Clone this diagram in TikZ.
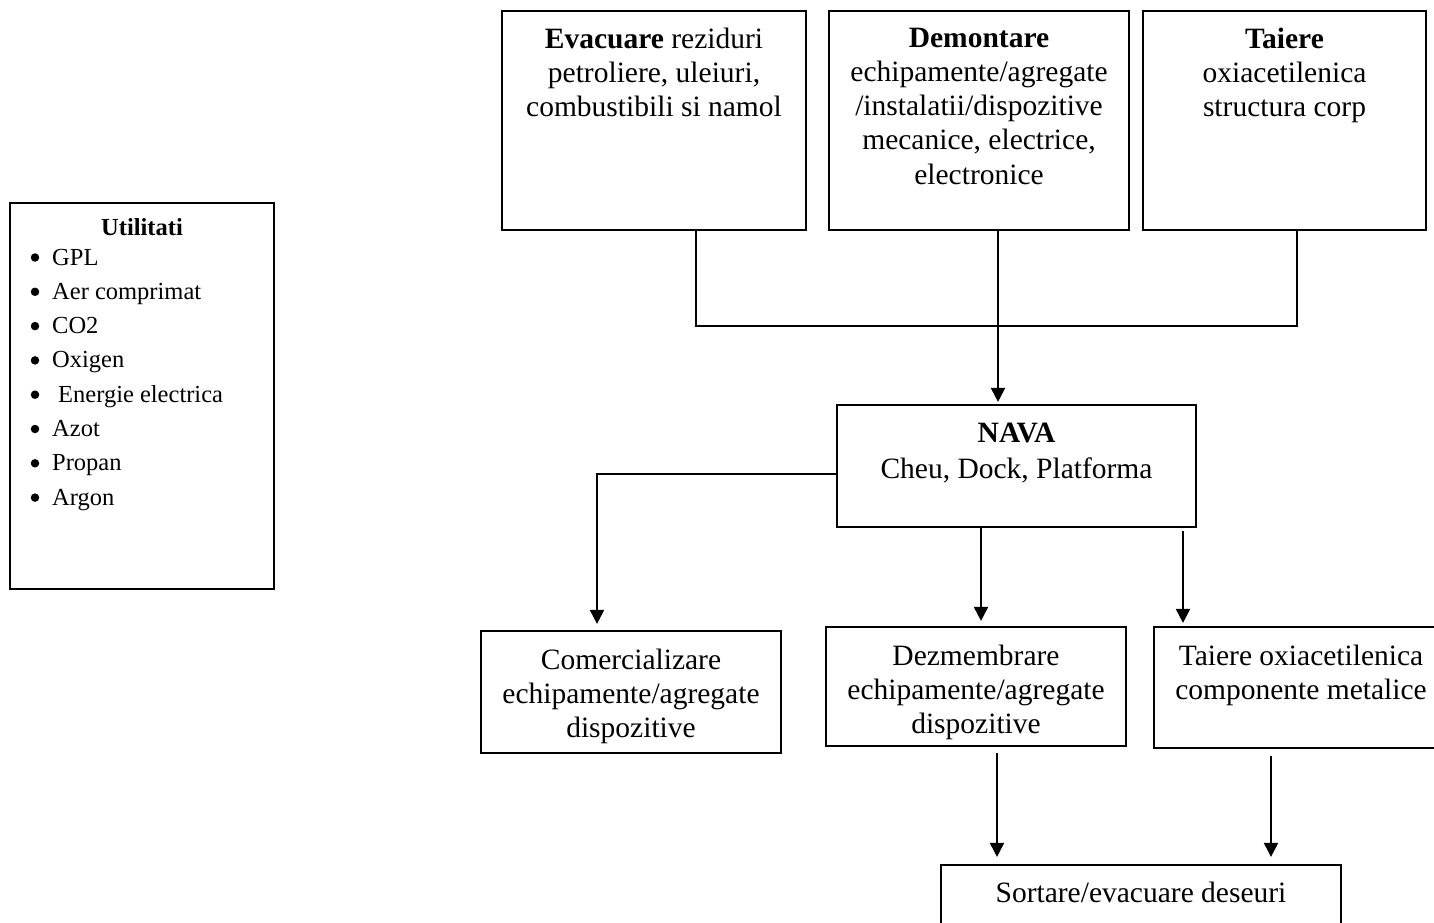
\documentclass[tikz,border=0pt]{standalone}
\usepackage{fontspec}
\setmainfont{Liberation Serif}
\usetikzlibrary{arrows.meta,calc}
\begin{document}
\begin{tikzpicture}[x=1pt,y=-1pt,
  box/.style={draw,line width=2.2pt,inner sep=0pt,fill=none},
  txt/.style={inner sep=0pt,align=center,anchor=north,
    font=\fontsize{29.5}{34.25}\selectfont},
  ltxt/.style={inner sep=0pt,anchor=base west,font=\fontsize{24.5}{34.3}\selectfont},
  bul/.style={circle,fill,inner sep=0pt,minimum size=8.5pt},
  link/.style={line width=2pt},
  arr/.style={line width=2pt,-{Triangle[width=14pt,length=14pt]},shorten >=4pt}]
\clip (0,0) rectangle (1434,923);
\fill[white] (0,0) rectangle (1434,923);

% top row of operations
\node[box,minimum width=304pt,minimum height=219pt] (evac) at (654,120.5) {};
\node[txt] (evact) at (654,27.5) {\textbf{Evacuare} reziduri\\petroliere, uleiuri,\\combustibili si namol};
\node[box,minimum width=300pt,minimum height=219pt] (demo) at (979,120.5) {};
\node[txt] (demot) at (979,27.5) {\textbf{Demontare}\\echipamente/agregate\\/instalatii/dispozitive\\mecanice, electrice,\\electronice};
\node[box,minimum width=283pt,minimum height=219pt] (taie) at (1284.5,120.5) {};
\node[txt] (taiet) at (1284.5,27.5) {\textbf{Taiere}\\oxiacetilenica\\structura corp};

% utilities
\node[box,minimum width=264pt,minimum height=386pt] (util) at (142,396) {};
\node[inner sep=0pt,anchor=base,font=\bfseries\fontsize{24.5}{34.3}\selectfont] (utilt) at (142,235) {Utilitati};
\foreach \i/\t/\dx in {1/GPL/0,2/Aer comprimat/0,3/CO2/0,4/Oxigen/0,5/Energie electrica/6,6/Azot/0,7/Propan/0,8/Argon/0}{
  \node[bul] (b\i) at (35,{257.5+(\i-1)*34.3}) {};
  \node[ltxt] (u\i) at ({52+\dx},{265+(\i-1)*34.3}) {\t};
}

% ship
\node[box,minimum width=359pt,minimum height=122pt] (nava) at (1016.5,466) {};
\node[txt,font=\fontsize{29.5}{36}\selectfont] (navat) at (1016.5,422.5) {\textbf{NAVA}\\Cheu, Dock, Platforma};

% second row
\node[box,minimum width=300pt,minimum height=122pt] (comerc) at (631,692) {};
\node[txt] (comerct) at (631,648.5) {Comercializare\\echipamente/agregate\\dispozitive};
\node[box,minimum width=300pt,minimum height=119pt] (dezm) at (976,686.5) {};
\node[txt] (dezmt) at (976,644.5) {Dezmembrare\\echipamente/agregate\\dispozitive};
\node[box,minimum width=294pt,minimum height=121pt] (tcomp) at (1301,687.5) {};
\node[txt] (tcompt) at (1301,644.5) {Taiere oxiacetilenica\\componente metalice};

% waste sorting
\node[box,minimum width=400pt,minimum height=90pt] (sort) at (1141,910) {};
\node[txt] (sortt) at (1141,881.5) {Sortare/evacuare deseuri};

% connectors
\coordinate (j1) at (696,326);
\coordinate (j2) at (998,326);
\coordinate (j3) at (1297,326);
\draw[link] (evac.south -| j1) -- (j1) -- (j3) -- (taie.south -| j3);
\draw[arr,shorten >=2pt] (demo.south -| j2) -- (nava.north -| j2);

\coordinate (j4) at (597,474);
\draw[arr,shorten >=6pt] (nava.west |- j4) -- (j4) -- (comerc.north -| j4);
\coordinate (c1) at (981,0);
\draw[arr,shorten >=5pt] (nava.south -| c1) -- (dezm.north -| c1);
\coordinate (c2) at (1183,0);
\draw[arr,shorten >=3pt,shorten <=3pt] (nava.south -| c2) -- (tcomp.north -| c2);
\coordinate (c3) at (997,0);
\draw[arr,shorten >=7pt,shorten <=6pt] (dezm.south -| c3) -- (sort.north -| c3);
\coordinate (c4) at (1271,0);
\draw[arr,shorten >=7pt,shorten <=7pt] (tcomp.south -| c4) -- (sort.north -| c4);
\end{tikzpicture}
\end{document}
